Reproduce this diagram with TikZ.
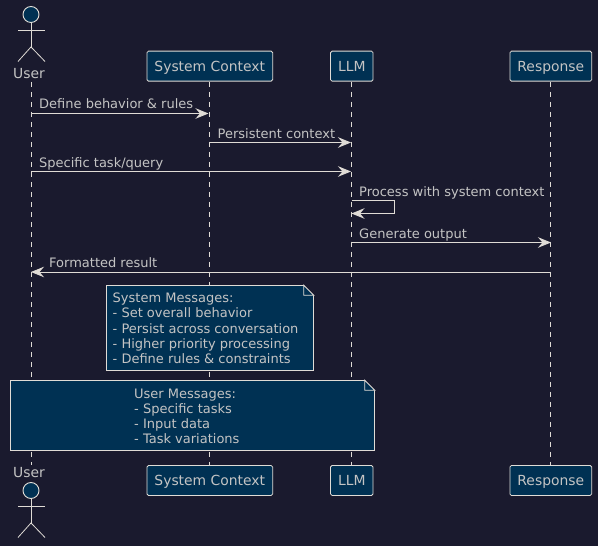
\documentclass[tikz,border=0pt]{standalone}
\usepackage{fontspec}
\setmainfont{DejaVu Sans}
\usetikzlibrary{arrows.meta}
\definecolor{bgc}{HTML}{1A1A2E}
\definecolor{boxc}{HTML}{003153}
\definecolor{linec}{HTML}{E0DCD6}
\definecolor{textc}{HTML}{C4C4C4}
\tikzset{
  part/.style={draw=linec,fill=boxc,text=textc,rounded corners=1.5pt,line width=0.8pt,minimum height=30pt,inner xsep=7.5pt,inner ysep=0pt,font=\fontsize{13.9}{15}\selectfont,text height=11pt,text depth=0pt},
  actorlabel/.style={text=textc,inner sep=0pt,font=\fontsize{13.9}{15}\selectfont},
  lifeline/.style={draw=linec,line width=0.8pt,dash pattern=on 5pt off 5pt},
  msg/.style={draw=linec,line width=0.9pt,-{Stealth[length=13pt,width=10.5pt,inset=4.5pt,fill=linec]}},
  msglabel/.style={text=textc,inner sep=0pt,anchor=base west,font=\fontsize{13}{15}\selectfont},
  notebox/.style={draw=linec,fill=boxc,line width=0.9pt,inner sep=0pt,outer sep=0pt,anchor=north west},
  notetext/.style={text=textc,inner sep=0pt,anchor=north west,align=left,font=\fontsize{13}{15.1}\selectfont},
  actorline/.style={draw=linec,line width=0.8pt},
  actorhead/.style={draw=linec,fill=boxc,circle,line width=0.9pt,minimum size=16pt,inner sep=0pt}
}
\newcommand{\stick}[2]{%
  \node[actorhead] (h#1) at (31,#2) {};
  \draw[actorline] (h#1.south) -- ++(0,-24) coordinate (hip#1);
  \draw[actorline] (18,#2-15.5) -- (45,#2-15.5);
  \draw[actorline] (18,#2-47) -- (hip#1) -- (45,#2-47);
}
\newcommand{\fold}[2]{%
  \fill[bgc] (#1,#2+0.5) -- (#1+0.5,#2+0.5) -- (#1+0.5,#2-10) -- (#1,#2-10) -- (#1-10,#2) -- cycle;
  \draw[draw=linec,line width=0.9pt,line join=miter] (#1-10,#2) -- (#1-10,#2-10) -- (#1,#2-10) -- cycle;
}
\begin{document}
\begin{tikzpicture}[x=1pt,y=1pt]
\useasboundingbox[fill=bgc] (0,0) rectangle (598,546);
% top participants (y up: y_tikz = 546 - y_px)
\node[actorlabel] (ut) at (29,472) {User};
\node[part] (st) at (209.8,479.85) {System Context};
\node[part] (lt) at (351.8,479.85) {LLM};
\node[part] (rt) at (550.8,479.85) {Response};
% bottom participants
\node[actorlabel] (ub) at (29,73) {User};
\node[part] (sb) at (209.8,65.5) {System Context};
\node[part] (lb) at (351.8,65.5) {LLM};
\node[part] (rb) at (550.8,65.5) {Response};
% lifelines
\coordinate (utop) at (31,464);
\coordinate (ubot) at (31,81);
\draw[lifeline] (utop) -- (ubot);
\draw[lifeline] (st.south) -- (sb.north);
\draw[lifeline] (lt.south) -- (lb.north);
\draw[lifeline] (rt.south) -- (rb.north);
% actors
\stick{top}{531.5}
\stick{bot}{55.5}
% messages
\coordinate (a1) at (31,432.5); \coordinate (b1) at (208.5,432.5);
\draw[msg] (a1) -- (b1);
\node[msglabel] (m1) at (39,437) {Define behavior \& rules};
\coordinate (a2) at (209.5,403.5); \coordinate (b2) at (351,403.5);
\draw[msg] (a2) -- (b2);
\node[msglabel] (m2) at (217.5,407.5) {Persistent context};
\coordinate (a3) at (31,374.5); \coordinate (b3) at (351,374.5);
\draw[msg] (a3) -- (b3);
\node[msglabel] (m3) at (39,378.5) {Specific task/query};
\coordinate (a4) at (351.5,345.5); \coordinate (c4) at (394.5,345.5); \coordinate (d4) at (394.5,332.5); \coordinate (b4) at (351.5,332.5);
\draw[msg] (a4) -- (c4) -- (d4) -- (b4);
\node[msglabel] (m4) at (359,349.5) {Process with system context};
\coordinate (a5) at (351.5,303.5); \coordinate (b5) at (551,303.5);
\draw[msg] (a5) -- (b5);
\node[msglabel] (m5) at (359,307.5) {Generate output};
\coordinate (a6) at (551,274); \coordinate (b6) at (31,274);
\draw[msg] (a6) -- (b6);
\node[msglabel] (m6) at (49,278.5) {Formatted result};
% notes
\node[notebox,minimum width=207.4pt,minimum height=85pt] (n1) at (106.3,260.7) {};
\fold{313.7}{260.7}
\node[notetext] (t1) at (112.5,253) {System Messages:\\- Set overall behavior\\- Persist across conversation\\- Higher priority processing\\- Define rules \& constraints};
\node[notebox,minimum width=364.4pt,minimum height=70pt] (n2) at (10.3,165.7) {};
\fold{374.7}{165.7}
\node[notetext] (t2) at (134,157) {User Messages:\\- Specific tasks\\- Input data\\- Task variations};
\end{tikzpicture}
\end{document}
